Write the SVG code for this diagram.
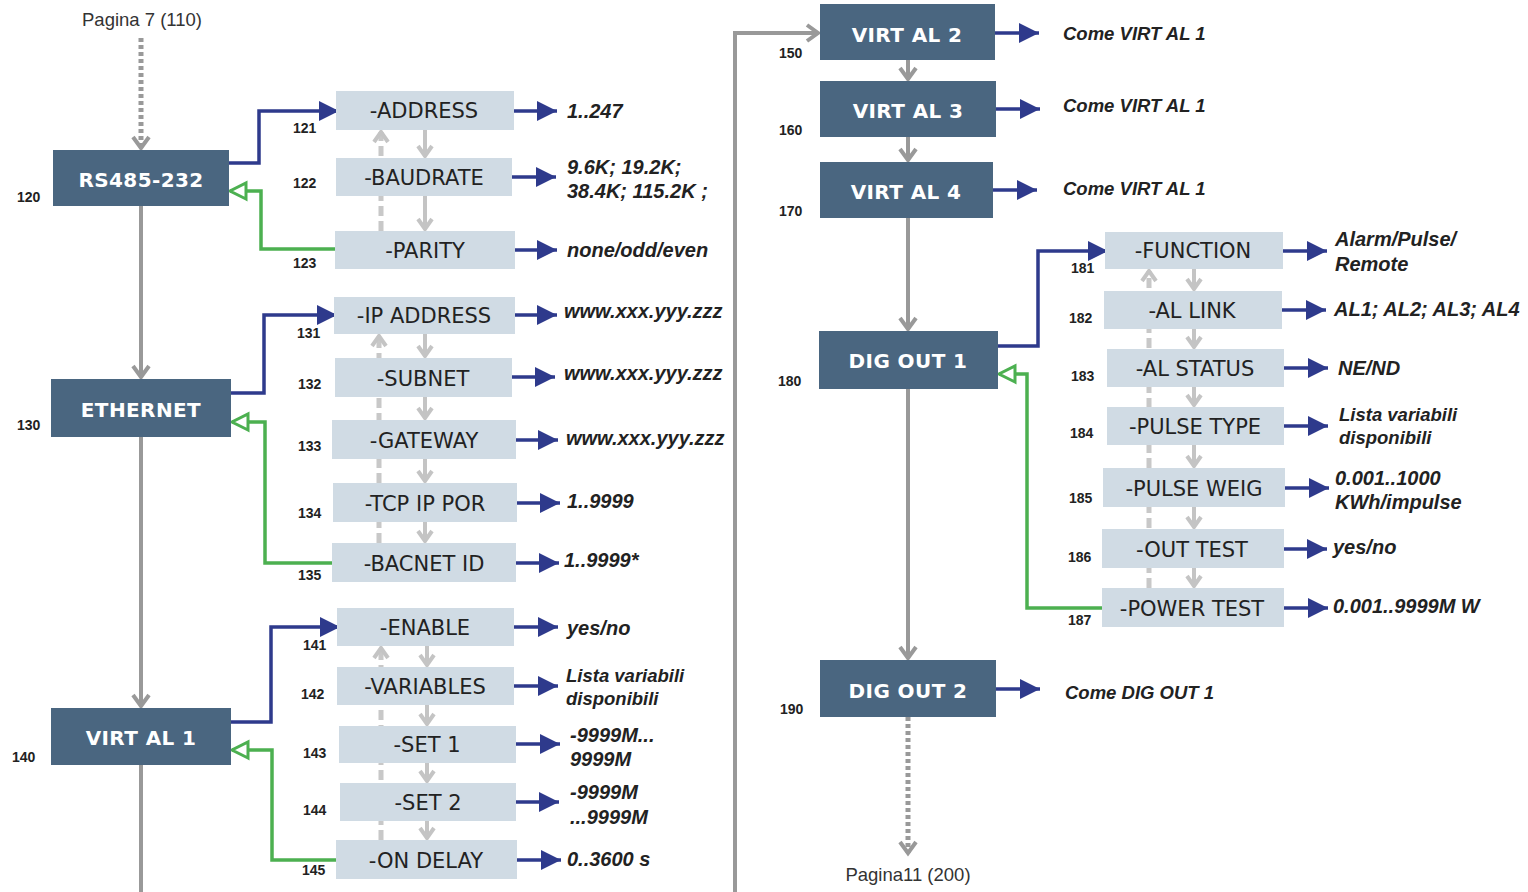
<svg xmlns="http://www.w3.org/2000/svg" width="1528" height="892" viewBox="0 0 1528 892">
<style>
.m rect{fill:#4a6680}
.m text{fill:#fff;font-family:"DejaVu Sans",Verdana,sans-serif;font-weight:bold;font-size:20px;text-anchor:middle;letter-spacing:0.4px}
.s rect{fill:#d0dbe4}
.s text{fill:#222;font-family:"DejaVu Sans",Verdana,sans-serif;font-size:21px;text-anchor:middle}
.n{fill:#222;font-family:"Liberation Sans",Arial,sans-serif;font-weight:bold;font-size:14px}
.v{fill:#222;font-family:"Liberation Sans",Arial,sans-serif;font-weight:bold;font-style:italic;font-size:20px}
.c{fill:#222;font-family:"Liberation Sans",Arial,sans-serif;font-weight:bold;font-style:italic;font-size:18.5px}
.p{fill:#333;font-family:"Liberation Sans",Arial,sans-serif;font-size:18.5px;text-anchor:middle}
.g{fill:none;stroke:#999;stroke-width:4}
.gd{fill:none;stroke:#999;stroke-width:5;stroke-dasharray:4 3}
.l{fill:none;stroke:#c4c4c4;stroke-width:4}
.ld{fill:none;stroke:#c8c8c8;stroke-width:5;stroke-dasharray:10 5}
.b{fill:none;stroke:#2e3a8c;stroke-width:3.5}
.gr{fill:none;stroke:#4cb050;stroke-width:3.5}
</style>
<defs>
<marker id="nav" markerUnits="userSpaceOnUse" markerWidth="22" markerHeight="22" refX="20" refY="10" orient="auto" overflow="visible"><path d="M0,0 L20,10 L0,20 Z" fill="#2e3a8c"/></marker>
<marker id="grn" markerUnits="userSpaceOnUse" markerWidth="20" markerHeight="20" refX="18" refY="9" orient="auto" overflow="visible"><path d="M2,1 L18,9 L2,17 Z" fill="#fff" stroke="#4cb050" stroke-width="3"/></marker>
<marker id="gch" markerUnits="userSpaceOnUse" markerWidth="16" markerHeight="20" refX="12" refY="9" orient="auto" overflow="visible"><path d="M1,1 L12,9 L1,17" fill="none" stroke="#999" stroke-width="4"/></marker>
<marker id="lch" markerUnits="userSpaceOnUse" markerWidth="16" markerHeight="20" refX="11" refY="8" orient="auto" overflow="visible"><path d="M1,1 L11,8 L1,15" fill="none" stroke="#c4c4c4" stroke-width="4"/></marker>
</defs>
<rect width="1528" height="892" fill="#fff"/>

<g id="connectors">
<path class="gd" d="M141,38 V148" marker-end="url(#gch)"/>
<path class="g" d="M141,206 V377" marker-end="url(#gch)"/>
<path class="g" d="M141,437 V706" marker-end="url(#gch)"/>
<path class="g" d="M141,765 V892"/>
<path class="g" d="M735,892 V33 H818" marker-end="url(#gch)"/>
<path class="g" d="M908,60 V79" marker-end="url(#gch)"/>
<path class="g" d="M908,137 V160" marker-end="url(#gch)"/>
<path class="g" d="M908,218 V329" marker-end="url(#gch)"/>
<path class="g" d="M908,389 V658" marker-end="url(#gch)"/>
<path class="gd" d="M908,717 V853" marker-end="url(#gch)"/>

<path class="b" d="M229,163 H259 V111 H339" marker-end="url(#nav)"/>
<path class="gr" d="M335,249 H261 V191 H230" marker-end="url(#grn)"/>
<path class="l" d="M425,130 V156" marker-end="url(#lch)"/>
<path class="l" d="M425,196 V229" marker-end="url(#lch)"/>
<path class="ld" d="M381,231 V132" marker-end="url(#lch)"/>
<path class="b" d="M514,111 H557" marker-end="url(#nav)"/>
<path class="b" d="M512,177 H556" marker-end="url(#nav)"/>
<path class="b" d="M515,250 H557" marker-end="url(#nav)"/>

<path class="b" d="M231,393 H264 V315 H337" marker-end="url(#nav)"/>
<path class="gr" d="M332,563 H265 V422 H232" marker-end="url(#grn)"/>
<path class="l" d="M425,334 V356" marker-end="url(#lch)"/>
<path class="l" d="M425,397 V418" marker-end="url(#lch)"/>
<path class="l" d="M425,459 V481" marker-end="url(#lch)"/>
<path class="l" d="M425,522 V541" marker-end="url(#lch)"/>
<path class="ld" d="M379,543 V336" marker-end="url(#lch)"/>
<path class="b" d="M515,315 H557" marker-end="url(#nav)"/>
<path class="b" d="M512,377 H555" marker-end="url(#nav)"/>
<path class="b" d="M516,440 H558" marker-end="url(#nav)"/>
<path class="b" d="M517,503 H560" marker-end="url(#nav)"/>
<path class="b" d="M516,563 H559" marker-end="url(#nav)"/>

<path class="b" d="M231,722 H271 V627 H340" marker-end="url(#nav)"/>
<path class="gr" d="M336,860 H272 V750 H232" marker-end="url(#grn)"/>
<path class="l" d="M427,646 V665" marker-end="url(#lch)"/>
<path class="l" d="M427,705 V724" marker-end="url(#lch)"/>
<path class="l" d="M427,763 V781" marker-end="url(#lch)"/>
<path class="l" d="M427,821 V838" marker-end="url(#lch)"/>
<path class="ld" d="M381,840 V648" marker-end="url(#lch)"/>
<path class="b" d="M514,627 H558" marker-end="url(#nav)"/>
<path class="b" d="M514,686 H558" marker-end="url(#nav)"/>
<path class="b" d="M516,744 H560" marker-end="url(#nav)"/>
<path class="b" d="M516,802 H559" marker-end="url(#nav)"/>
<path class="b" d="M517,860 H561" marker-end="url(#nav)"/>

<path class="b" d="M995,33 H1039" marker-end="url(#nav)"/>
<path class="b" d="M996,109 H1040" marker-end="url(#nav)"/>
<path class="b" d="M993,190 H1037" marker-end="url(#nav)"/>
<path class="b" d="M996,689 H1040" marker-end="url(#nav)"/>

<path class="b" d="M998,346 H1038 V251 H1108" marker-end="url(#nav)"/>
<path class="gr" d="M1102,608 H1027 V374 H999" marker-end="url(#grn)"/>
<path class="l" d="M1194,269 V289" marker-end="url(#lch)"/>
<path class="l" d="M1194,329 V347" marker-end="url(#lch)"/>
<path class="l" d="M1194,387 V405" marker-end="url(#lch)"/>
<path class="l" d="M1194,445 V466" marker-end="url(#lch)"/>
<path class="l" d="M1194,507 V527" marker-end="url(#lch)"/>
<path class="l" d="M1194,568 V586" marker-end="url(#lch)"/>
<path class="ld" d="M1149,588 V271" marker-end="url(#lch)"/>
<path class="b" d="M1283,251 H1327" marker-end="url(#nav)"/>
<path class="b" d="M1282,310 H1326" marker-end="url(#nav)"/>
<path class="b" d="M1284,368 H1328" marker-end="url(#nav)"/>
<path class="b" d="M1284,426 H1328" marker-end="url(#nav)"/>
<path class="b" d="M1285,488 H1329" marker-end="url(#nav)"/>
<path class="b" d="M1284,549 H1327" marker-end="url(#nav)"/>
<path class="b" d="M1284,608 H1328" marker-end="url(#nav)"/>
</g>

<text class="p" x="142" y="26">Pagina 7 (110)</text>
<text class="p" x="908" y="881">Pagina11 (200)</text>

<g id="n120" class="m"><rect x="53" y="150" width="176" height="56"/><text x="141" y="187">RS485-232</text></g>
<g id="n130" class="m"><rect x="51" y="379" width="180" height="58"/><text x="141" y="417">ETHERNET</text></g>
<g id="n140" class="m"><rect x="51" y="708" width="180" height="57"/><text x="141" y="745">VIRT AL 1</text></g>
<g id="n150" class="m"><rect x="820" y="4" width="175" height="56"/><text x="907" y="42">VIRT AL 2</text></g>
<g id="n160" class="m"><rect x="820" y="81" width="176" height="56"/><text x="908" y="118">VIRT AL 3</text></g>
<g id="n170" class="m"><rect x="820" y="162" width="173" height="56"/><text x="906" y="199">VIRT AL 4</text></g>
<g id="n180" class="m"><rect x="819" y="331" width="179" height="58"/><text x="908" y="368">DIG OUT 1</text></g>
<g id="n190" class="m"><rect x="820" y="660" width="176" height="57"/><text x="908" y="698">DIG OUT 2</text></g>

<g id="n121" class="s"><rect x="336" y="91" width="178" height="39"/><text x="424" y="118">-ADDRESS</text></g>
<g id="n122" class="s"><rect x="336" y="158" width="176" height="38"/><text x="424" y="185">-BAUDRATE</text></g>
<g id="n123" class="s"><rect x="335" y="231" width="180" height="38"/><text x="425" y="258">-PARITY</text></g>
<g id="n131" class="s"><rect x="334" y="297" width="181" height="37"/><text x="424" y="323">-IP ADDRESS</text></g>
<g id="n132" class="s"><rect x="335" y="358" width="177" height="39"/><text x="423" y="386">-SUBNET</text></g>
<g id="n133" class="s"><rect x="332" y="420" width="184" height="39"/><text x="424" y="448">-GATEWAY</text></g>
<g id="n134" class="s"><rect x="333" y="483" width="184" height="39"/><text x="425" y="511">-TCP IP POR</text></g>
<g id="n135" class="s"><rect x="332" y="543" width="184" height="39"/><text x="424" y="571">-BACNET ID</text></g>
<g id="n141" class="s"><rect x="337" y="608" width="177" height="38"/><text x="425" y="635">-ENABLE</text></g>
<g id="n142" class="s"><rect x="337" y="667" width="177" height="38"/><text x="425" y="694">-VARIABLES</text></g>
<g id="n143" class="s"><rect x="339" y="726" width="177" height="37"/><text x="427" y="752">-SET 1</text></g>
<g id="n144" class="s"><rect x="340" y="783" width="176" height="38"/><text x="428" y="810">-SET 2</text></g>
<g id="n145" class="s"><rect x="336" y="840" width="181" height="39"/><text x="426" y="868">-ON DELAY</text></g>
<g id="n181" class="s"><rect x="1105" y="232" width="178" height="37"/><text x="1193" y="258">-FUNCTION</text></g>
<g id="n182" class="s"><rect x="1104" y="291" width="178" height="38"/><text x="1192" y="318">-AL LINK</text></g>
<g id="n183" class="s"><rect x="1107" y="349" width="177" height="38"/><text x="1195" y="376">-AL STATUS</text></g>
<g id="n184" class="s"><rect x="1107" y="407" width="177" height="38"/><text x="1195" y="434">-PULSE TYPE</text></g>
<g id="n185" class="s"><rect x="1103" y="468" width="182" height="39"/><text x="1194" y="496">-PULSE WEIG</text></g>
<g id="n186" class="s"><rect x="1102" y="529" width="182" height="39"/><text x="1192" y="557">-OUT TEST</text></g>
<g id="n187" class="s"><rect x="1102" y="588" width="182" height="39"/><text x="1192" y="616">-POWER TEST</text></g>

<g id="numbers">
<text class="n" x="17" y="202">120</text>
<text class="n" x="293" y="133">121</text>
<text class="n" x="293" y="188">122</text>
<text class="n" x="293" y="268">123</text>
<text class="n" x="17" y="430">130</text>
<text class="n" x="297" y="338">131</text>
<text class="n" x="298" y="389">132</text>
<text class="n" x="298" y="451">133</text>
<text class="n" x="298" y="518">134</text>
<text class="n" x="298" y="580">135</text>
<text class="n" x="12" y="762">140</text>
<text class="n" x="303" y="650">141</text>
<text class="n" x="301" y="699">142</text>
<text class="n" x="303" y="758">143</text>
<text class="n" x="303" y="815">144</text>
<text class="n" x="302" y="875">145</text>
<text class="n" x="779" y="58">150</text>
<text class="n" x="779" y="135">160</text>
<text class="n" x="779" y="216">170</text>
<text class="n" x="778" y="386">180</text>
<text class="n" x="1071" y="273">181</text>
<text class="n" x="1069" y="323">182</text>
<text class="n" x="1071" y="381">183</text>
<text class="n" x="1070" y="438">184</text>
<text class="n" x="1069" y="503">185</text>
<text class="n" x="1068" y="562">186</text>
<text class="n" x="1068" y="625">187</text>
<text class="n" x="780" y="714">190</text>
</g>

<g id="values">
<text class="v" x="567" y="118">1..247</text>
<text class="v" x="567" y="174">9.6K; 19.2K;</text>
<text class="v" x="567" y="198">38.4K; 115.2K ;</text>
<text class="v" x="567" y="257">none/odd/even</text>
<text class="v" x="564" y="318">www.xxx.yyy.zzz</text>
<text class="v" x="564" y="380">www.xxx.yyy.zzz</text>
<text class="v" x="566" y="445">www.xxx.yyy.zzz</text>
<text class="v" x="567" y="508">1..9999</text>
<text class="v" x="564" y="567">1..9999*</text>
<text class="v" x="567" y="635">yes/no</text>
<text class="v" x="566" y="682" style="font-size:18.5px">Lista variabili</text>
<text class="v" x="566" y="705" style="font-size:18.5px">disponibili</text>
<text class="v" x="570" y="742">-9999M...</text>
<text class="v" x="570" y="766">9999M</text>
<text class="v" x="570" y="799">-9999M</text>
<text class="v" x="570" y="824">...9999M</text>
<text class="v" x="567" y="866">0..3600 s</text>
<text class="c" x="1063" y="40">Come VIRT AL 1</text>
<text class="c" x="1063" y="112">Come VIRT AL 1</text>
<text class="c" x="1063" y="195">Come VIRT AL 1</text>
<text class="c" x="1065" y="699">Come DIG OUT 1</text>
<text class="v" x="1335" y="246">Alarm/Pulse/</text>
<text class="v" x="1335" y="271">Remote</text>
<text class="v" x="1334" y="316">AL1; AL2; AL3; AL4</text>
<text class="v" x="1338" y="375">NE/ND</text>
<text class="v" x="1339" y="421" style="font-size:18.5px">Lista variabili</text>
<text class="v" x="1339" y="444" style="font-size:18.5px">disponibili</text>
<text class="v" x="1335" y="485">0.001..1000</text>
<text class="v" x="1335" y="509">KWh/impulse</text>
<text class="v" x="1333" y="554">yes/no</text>
<text class="v" x="1333" y="613">0.001..9999M W</text>
</g>
</svg>
